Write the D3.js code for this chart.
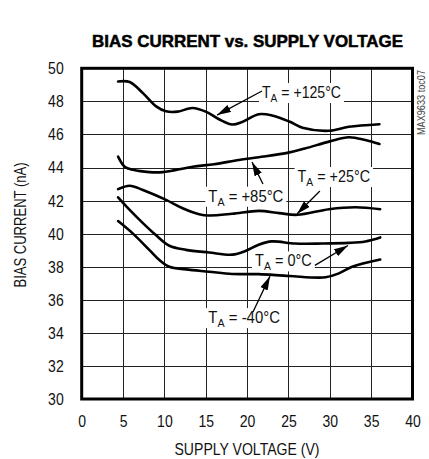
<!DOCTYPE html>
<html>
<head>
<meta charset="utf-8">
<script src="https://cdn.jsdelivr.net/npm/d3@7"></script>
<style>
  body { margin: 0; background: #fff; }
  svg { display: block; }
  text { font-family: "Liberation Sans", Arial, sans-serif; fill: #111; }
</style>
</head>
<body>
<div id="chart"></div>
<script>
// supply voltage (V) / bias current (nA) pairs
const curve125 = [[4.4,49.2],[5.8,49.17],[7.4,48.5],[9.0,47.7],[10.2,47.4],[11.6,47.38],[13.4,47.6],[15.0,47.38],[16.6,46.92],[18.2,46.6],[19.4,46.75],[21.4,47.22],[23.0,47.15],[25.1,46.78],[26.7,46.4],[29.9,46.22],[32.3,46.46],[36.0,46.62]];
const curve85 = [[4.4,44.66],[5.2,44.05],[6.2,43.86],[8.2,43.72],[9.8,43.72],[13.4,44.05],[16.0,44.2],[19.0,44.45],[21.4,44.62],[25.0,44.9],[27.0,45.15],[30.0,45.58],[32.3,45.83],[34.3,45.66],[36.0,45.42]];
const curve25 = [[4.4,42.69],[5.8,42.9],[7.4,42.64],[10.2,42.04],[12.2,41.54],[14.2,41.18],[15.4,41.1],[18.2,41.2],[21.4,41.38],[23.9,41.24],[26.1,41.14],[29.9,41.48],[33.1,41.6],[36.1,41.48]];
const curve0 = [[4.4,42.2],[5.8,41.44],[7.4,40.64],[9.0,39.9],[10.6,39.27],[12.6,39.02],[15.4,38.86],[18.2,38.73],[19.8,38.95],[21.4,39.33],[23.0,39.53],[25.8,39.4],[29.1,39.4],[32.3,39.44],[34.3,39.53],[36.1,39.77]];
const curveM40 = [[4.4,40.76],[6.2,40.0],[8.2,39.0],[9.4,38.4],[10.6,38.0],[12.6,37.84],[15.4,37.7],[18.2,37.56],[21.4,37.55],[25.1,37.44],[29.5,37.36],[31.1,37.6],[32.7,38.0],[36.1,38.44]];

const xTicks = [0, 5, 10, 15, 20, 25, 30, 35, 40];
const yTicks = [30, 32, 34, 36, 38, 40, 42, 44, 46, 48, 50];

// annotation text, its anchor and its arrow (all in data units)
const labelTemps = ["+125°C", "+85°C", "+25°C", "0°C", "-40°C"];
const labelAt = [[21.8,48.2],[15.31,41.93],[26.1,43.12],[20.96,38.02],[15.31,34.59]];
const arrowFrom = [[21.8,48.63],[21.92,43.0],[28.8,42.58],[28.2,38.08],[20.71,35.26]];
const arrowTo = [[16.36,47.17],[20.59,44.33],[26.03,41.19],[32.2,39.28],[22.77,37.43]];
const labelWidths = [79, 75, 72.5, 56.7, 71.7];

const W = 429, H = 459;
const margin = {top: 68.3, right: 16.5, bottom: 60, left: 81.7};
const w = W - margin.left - margin.right;
const h = 399 - margin.top;

const svg = d3.select("#chart").append("svg")
  .attr("width", W)
  .attr("height", H);

const defs = svg.append("defs");
defs.append("marker")
  .attr("id", "head")
  .attr("viewBox", "0 0 14 8")
  .attr("refX", 14).attr("refY", 4)
  .attr("markerWidth", 14).attr("markerHeight", 8)
  .attr("markerUnits", "userSpaceOnUse")
  .attr("orient", "auto")
  .append("path")
  .attr("d", "M0,0 L14,4 L0,8 Z")
  .attr("fill", "#000");

svg.append("text")
  .attr("x", 247.5)
  .attr("y", 46.7)
  .attr("text-anchor", "middle")
  .attr("font-weight", "bold")
  .attr("font-size", 16.5)
  .attr("textLength", 311)
  .attr("lengthAdjust", "spacingAndGlyphs")
  .style("fill", "#000")
  .style("stroke", "#000")
  .style("stroke-width", 0.5)
  .text("BIAS CURRENT vs. SUPPLY VOLTAGE");

const g = svg.append("g")
  .attr("transform", `translate(${margin.left},${margin.top})`);

const x = d3.scaleLinear().domain([0, 40]).range([0, w]);
const y = d3.scaleLinear().domain([30, 50]).range([h, 0]);

const xAxis = g.append("g")
  .attr("transform", `translate(0,${h})`)
  .call(d3.axisBottom(x).tickValues(xTicks).tickSize(-h).tickPadding(16));
const yAxis = g.append("g")
  .call(d3.axisLeft(y).tickValues(yTicks).tickSize(-w).tickPadding(18));

[xAxis, yAxis].forEach(a => {
  a.select(".domain").remove();
  a.selectAll(".tick line").attr("stroke", "#222").attr("stroke-width", 1).attr("shape-rendering", "crispEdges");
  a.selectAll(".tick text")
    .attr("font-size", 17)
    .attr("font-family", null)
    .attr("fill", "#111")
    .attr("textLength", d => String(d).length * 7.8)
    .attr("lengthAdjust", "spacingAndGlyphs");
});

const line = d3.line()
  .x(d => x(d[0]))
  .y(d => y(d[1]))
  .curve(d3.curveCatmullRom.alpha(0.5));

// labels go under the curves, their white boxes hide the grid
labelTemps.forEach((t, i) => {
  const lg = g.append("g");
  const lx = x(labelAt[i][0]), ly = y(labelAt[i][1]);
  const txt = lg.append("text")
    .attr("x", lx)
    .attr("y", ly)
    .attr("font-size", 16)
    .attr("textLength", labelWidths[i])
    .attr("lengthAdjust", "spacingAndGlyphs");
  txt.append("tspan").text("T");
  txt.append("tspan").attr("font-size", 11.5).attr("dy", 4).text("A");
  txt.append("tspan").attr("dy", -4).text(" = " + t);
  lg.insert("rect", "text")
    .attr("x", lx - 3).attr("y", ly - 15)
    .attr("width", labelWidths[i] + 6).attr("height", 20)
    .attr("fill", "#fff");
});

[curve125, curve85, curve25, curve0, curveM40].forEach(c => {
  g.append("path")
    .datum(c)
    .attr("d", line)
    .attr("fill", "none")
    .attr("stroke", "#000")
    .attr("stroke-width", 2.6)
    .attr("stroke-linejoin", "round")
    .attr("stroke-linecap", "round");
});

labelTemps.forEach((t, i) => {
  g.append("line")
    .attr("x1", x(arrowFrom[i][0])).attr("y1", y(arrowFrom[i][1]))
    .attr("x2", x(arrowTo[i][0])).attr("y2", y(arrowTo[i][1]))
    .attr("stroke", "#000")
    .attr("stroke-width", 1.3)
    .attr("marker-end", "url(#head)");
});

// frame
g.append("rect")
  .attr("width", w).attr("height", h)
  .attr("fill", "none")
  .attr("stroke", "#000")
  .attr("stroke-width", 3);

svg.append("text")
  .attr("transform", "translate(26,225) rotate(-90)")
  .attr("text-anchor", "middle")
  .attr("font-size", 17)
  .attr("textLength", 125)
  .attr("lengthAdjust", "spacingAndGlyphs")
  .text("BIAS CURRENT (nA)");

svg.append("text")
  .attr("x", 247)
  .attr("y", 455)
  .attr("text-anchor", "middle")
  .attr("font-size", 17)
  .attr("textLength", 145)
  .attr("lengthAdjust", "spacingAndGlyphs")
  .text("SUPPLY VOLTAGE (V)");

svg.append("text")
  .attr("transform", "translate(425,135) rotate(-90)")
  .attr("font-size", 10)
  .attr("textLength", 65)
  .attr("lengthAdjust", "spacingAndGlyphs")
  .style("fill", "#444")
  .text("MAX9633 toc07");
</script>
</body>
</html>
